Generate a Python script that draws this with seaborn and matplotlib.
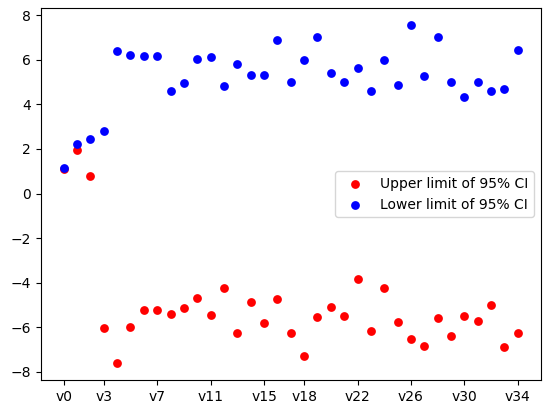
import matplotlib
matplotlib.use("Agg")
import matplotlib.pyplot as plt
import seaborn as sns
import numpy as np

labels = [f"v{i}" for i in range(35)]
upper = [1.1, 1.95, 0.8, -6.05, -7.6, -6.0, -5.2, -5.2, -5.4, -5.15, -4.7, -5.45, -4.25, -6.25,
         -4.85, -5.8, -4.75, -6.25, -7.3, -5.55, -5.1, -5.5, -3.85, -6.15, -4.25, -5.75, -6.5,
         -6.85, -5.6, -6.4, -5.5, -5.7, -5.0, -6.9, -6.25]
lower = [1.15, 2.2, 2.45, 2.8, 6.4, 6.2, 6.15, 6.15, 4.6, 4.95, 6.05, 6.1, 4.8, 5.8, 5.3, 5.3,
         6.9, 5.0, 6.0, 7.0, 5.4, 5.0, 5.65, 4.6, 6.0, 4.85, 7.55, 5.25, 7.0, 5.0, 4.35, 5.0,
         4.6, 4.7, 6.45]
tick_idx = [0, 3, 7, 11, 15, 18, 22, 26, 30, 34]

fig, ax = plt.subplots(figsize=(5.46, 4.13), dpi=100)
x = np.arange(len(labels))
sns.scatterplot(x=x, y=upper, color="red", s=40, linewidth=0, label="Upper limit of 95% CI", ax=ax)
sns.scatterplot(x=x, y=lower, color="blue", s=40, linewidth=0, label="Lower limit of 95% CI", ax=ax)
ax.set_xticks(tick_idx)
ax.set_xticklabels([labels[i] for i in tick_idx])
ax.set_yticks(range(-8, 9, 2))
ax.legend(loc="center right")
fig.subplots_adjust(left=0.075, right=0.99, top=0.98, bottom=0.08)
fig.savefig("out.png", dpi=100)
